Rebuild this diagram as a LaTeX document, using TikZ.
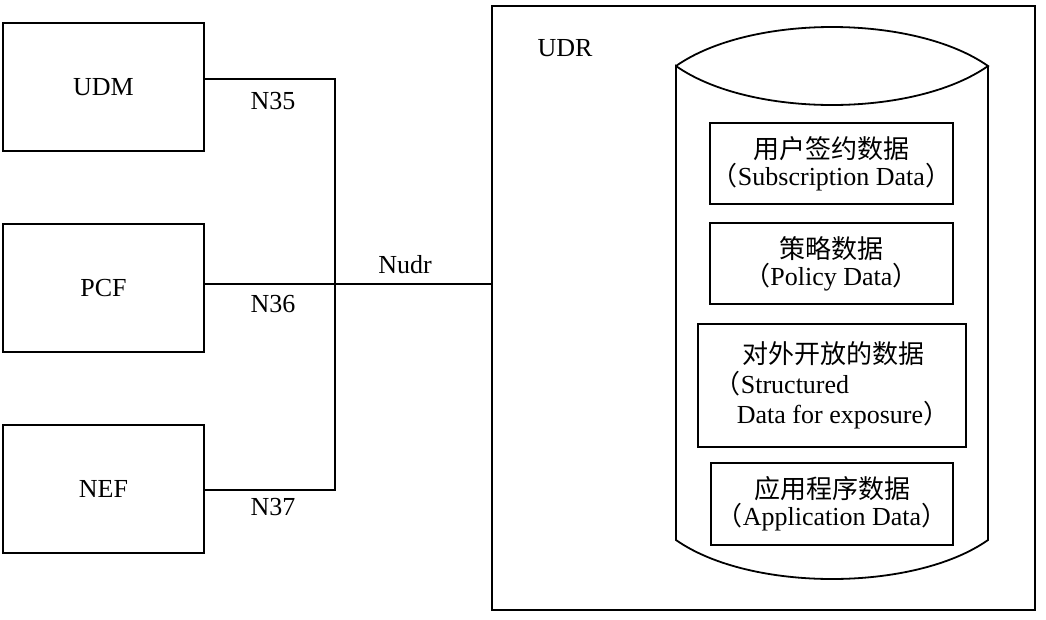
\documentclass[tikz,border=0pt]{standalone}
\usepackage{fontspec}
\setmainfont{Liberation Serif}
\newfontfamily\cjk{Noto Sans CJK SC}
\begin{document}
\begin{tikzpicture}[x=1pt,y=-1pt,line width=1.8pt,
  nfbox/.style={draw,minimum width=201pt,minimum height=128pt,inner sep=0pt,font=\fontsize{26}{30}\selectfont},
  databox/.style={draw,inner sep=0pt,align=center,font=\fontsize{26}{27}\selectfont},
  lbl/.style={inner sep=0pt,font=\fontsize{26}{30}\selectfont}]
\useasboundingbox (0,0) rectangle (1046,619);
% network functions
\node[nfbox] (UDM) at (103.5,87) {UDM};
\node[nfbox] (PCF) at (103.5,288) {PCF};
\node[nfbox] (NEF) at (103.5,489) {NEF};
% UDR frame
\node[draw,minimum width=543pt,minimum height=604pt,inner sep=0pt] (UDR) at (763.5,308) {};
\node[lbl] (UDRl) at (565,48) {UDR};
% cylinder
\draw (676,66) .. controls (750,14) and (914,14) .. (988,66)
      .. controls (914,118) and (750,118) .. (676,66)
      -- (676,540) .. controls (750,592) and (914,592) .. (988,540) -- (988,66);
% data boxes
\node[databox,minimum width=243pt,minimum height=81pt] (b1) at (831.5,163.5)
  {{\cjk 用户签约数据}\\{\cjk （}Subscription Data{\cjk ）}};
\node[databox,minimum width=243pt,minimum height=81pt] (b2) at (831.5,263.5)
  {{\cjk 策略数据}\\{\cjk （}Policy Data{\cjk ）}};
\node[databox,align=left,minimum width=268pt,minimum height=123pt,font=\fontsize{26}{30}\selectfont] (b3) at (832,385.5)
  {\hspace{28pt}{\cjk 对外开放的数据}\\{\cjk （}Structured\\\hspace{22pt}Data for exposure{\cjk ）}};
\node[databox,minimum width=242pt,minimum height=82pt] (b4) at (832,504)
  {{\cjk 应用程序数据}\\{\cjk （}Application Data{\cjk ）}};
% connectors
\coordinate (j) at (335,284);
\draw ([yshift=8pt]UDM.east) -| (j);
\draw ([yshift=4pt]PCF.east) -- ([yshift=4pt]PCF.east -| UDR.west);
\draw ([yshift=-1pt]NEF.east) -| (j);
% labels
\node[lbl] (n35) at (273,101) {N35};
\node[lbl] (n36) at (273,304) {N36};
\node[lbl] (n37) at (273,507) {N37};
\node[lbl] (nudr) at (405,265) {Nudr};
\end{tikzpicture}
\end{document}
